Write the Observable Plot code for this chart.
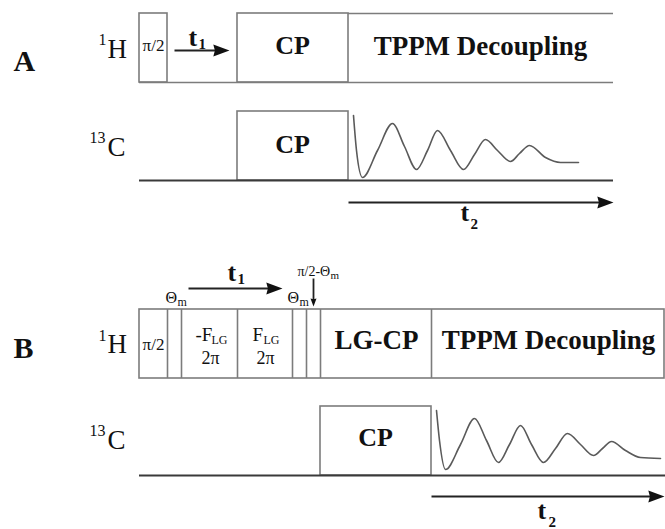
<!DOCTYPE html>
<html><head><meta charset="utf-8">
<script src="https://cdn.jsdelivr.net/npm/d3@7"></script>
<script src="https://cdn.jsdelivr.net/npm/@observablehq/plot@0.6"></script>
<style>html,body{margin:0;padding:0;background:#fff}</style>
</head><body><div id="chart"></div>
<script>
// ---- Diagram data (time axis -> x, channel level -> y, in diagram units) ----
const pulseBoxes = [
  {panel: "A", channel: "1H",  name: "pi/2", t0: 139, t1: 167, lo: 82,  hi: 13},
  {panel: "A", channel: "1H",  name: "CP",   t0: 237, t1: 348, lo: 82,  hi: 13},
  {panel: "A", channel: "13C", name: "CP",   t0: 237, t1: 348, lo: 180, hi: 111},
  {panel: "B", channel: "1H",  name: "block",t0: 139, t1: 664, lo: 378, hi: 309},
  {panel: "B", channel: "13C", name: "CP",   t0: 320, t1: 431, lo: 475, hi: 406}
];
const blockEdgesB = [167, 181, 237, 292, 306, 320, 431];
const blockLevelsB = {lo: 378, hi: 309};
const levelLines = [
  {t0: 139, t1: 613, level: 82,  kind: "1H"},
  {t0: 348, t1: 613, level: 13,  kind: "1H"},
  {t0: 139, t1: 613, level: 180, kind: "13C"},
  {t0: 139, t1: 665, level: 475, kind: "13C"}
];
const arrows = [
  {t0: 174, t1: 229, l0: 50,  l1: 50,  head: 6},
  {t0: 348, t1: 613, l0: 202, l1: 202, head: 6},
  {t0: 188, t1: 282, l0: 288, l1: 288, head: 6},
  {t0: 431, t1: 664, l0: 496, l1: 496, head: 6},
  {t0: 313, t1: 313, l0: 278, l1: 306, head: 3}
];
const fidA = [[353,115],[356,150],[362,177],[377,150],[392,123],[404,146],[416,169],[427,150],[437,130],[450,150],[463,169],[474,154],[485,139],[497,150],[510,161],[519,153],[529,145],[545,157],[560,162],[578,162]];
const fidB = [[436,410],[439,440],[445,469],[460,444],[474,418],[486,440],[498,462],[509,444],[520,425],[531,444],[543,462],[555,448],[567,433],[580,444],[593,455],[602,448],[611,441],[625,450],[640,457],[660,458]];

const boldLabels = [
  {text: "A", t: 13, l: 70, size: 30, anchor: "start"},
  {text: "B", t: 13, l: 357, size: 30, anchor: "start"},
  {text: "CP", t: 292, l: 53, size: 26, anchor: "middle"},
  {text: "TPPM Decoupling", t: 480, l: 54, size: 27, anchor: "middle"},
  {text: "CP", t: 292, l: 152, size: 26, anchor: "middle"},
  {text: "t", t: 188, l: 45, size: 26, anchor: "start"},
  {text: "1", t: 198, l: 48, size: 15, anchor: "start"},
  {text: "t", t: 460, l: 220, size: 26, anchor: "start"},
  {text: "2", t: 470, l: 228, size: 15, anchor: "start"},
  {text: "t", t: 227, l: 280, size: 26, anchor: "start"},
  {text: "1", t: 237, l: 283, size: 15, anchor: "start"},
  {text: "t", t: 537, l: 518, size: 26, anchor: "start"},
  {text: "2", t: 548, l: 526, size: 15, anchor: "start"},
  {text: "LG-CP", t: 376, l: 348, size: 27, anchor: "middle"},
  {text: "TPPM Decoupling", t: 548, l: 348, size: 27, anchor: "middle"},
  {text: "CP", t: 375, l: 445, size: 26, anchor: "middle"}
];
const regularLabels = [
  {text: "1", t: 98, l: 44, size: 16, anchor: "start"},
  {text: "H", t: 107, l: 57, size: 27, anchor: "start"},
  {text: "13", t: 89, l: 142, size: 16, anchor: "start"},
  {text: "C", t: 107, l: 155, size: 27, anchor: "start"},
  {text: "1", t: 98, l: 340, size: 16, anchor: "start"},
  {text: "H", t: 107, l: 352, size: 27, anchor: "start"},
  {text: "13", t: 89, l: 435, size: 16, anchor: "start"},
  {text: "C", t: 107, l: 448, size: 27, anchor: "start"},
  {text: "π/2", t: 153, l: 50, size: 17, anchor: "middle"},
  {text: "π/2", t: 153, l: 349, size: 17, anchor: "middle"},
  {text: "-F", t: 195, l: 340, size: 19, anchor: "start"},
  {text: "LG", t: 211, l: 343, size: 12, anchor: "start"},
  {text: "2π", t: 210, l: 363, size: 18, anchor: "middle"},
  {text: "F", t: 252, l: 340, size: 19, anchor: "start"},
  {text: "LG", t: 263, l: 343, size: 12, anchor: "start"},
  {text: "2π", t: 265, l: 363, size: 18, anchor: "middle"},
  {text: "Θ", t: 165, l: 302, size: 16, anchor: "start"},
  {text: "m", t: 177, l: 305, size: 12, anchor: "start"},
  {text: "Θ", t: 287, l: 302, size: 16, anchor: "start"},
  {text: "m", t: 299, l: 305, size: 12, anchor: "start"},
  {text: "π/2-Θ", t: 297, l: 275, size: 14, anchor: "start"},
  {text: "m", t: 330, l: 278, size: 11, anchor: "start"}
];

// ---- Arrowhead symbol (tip at the anchor point, pointing to +x) ----
const arrowHead = {
  draw(ctx, size) {
    const r = Math.sqrt(size / Math.PI);
    const L = 2.7 * r;
    ctx.moveTo(0, 0);
    ctx.lineTo(-L, -r);
    ctx.lineTo(-L * 0.9, 0);
    ctx.lineTo(-L, r);
    ctx.closePath();
  }
};

const font = "'Liberation Serif', 'Times New Roman', serif";
const textMarks = (data, weight) =>
  ["start", "middle"].map(a => Plot.text(data.filter(d => d.anchor === a), {
    x: "t", y: "l", text: "text", fontSize: d => d.size, textAnchor: a,
    lineAnchor: "bottom", fontWeight: weight, fontFamily: font, fill: "#111"
  }));

const edgeSegs = blockEdgesB.map(t => ({t, lo: blockLevelsB.lo, hi: blockLevelsB.hi}));

const chart = Plot.plot({
  width: 665, height: 529, margin: 0,
  x: {domain: [0, 665], range: [0, 665], axis: null},
  y: {domain: [0, 529], range: [0, 529], axis: null},
  r: {type: "identity"},
  style: {background: "#fff", fontFamily: font},
  marks: [
    Plot.rect(pulseBoxes, {x1: "t0", x2: "t1", y1: "hi", y2: "lo", fill: "none", stroke: "#7c7c7c", strokeWidth: 1.6}),
    Plot.ruleX(edgeSegs, {x: "t", y1: "hi", y2: "lo", stroke: "#7c7c7c", strokeWidth: 1.6}),
    Plot.ruleY(levelLines.filter(d => d.kind === "1H"), {y: "level", x1: "t0", x2: "t1", stroke: "#7c7c7c", strokeWidth: 1.6}),
    Plot.ruleY(levelLines.filter(d => d.kind === "13C"), {y: "level", x1: "t0", x2: "t1", stroke: "#3a3a3a", strokeWidth: 2.2}),
    Plot.line(fidA, {x: d => d[0], y: d => d[1], curve: "monotone-x", stroke: "#5a5a5a", strokeWidth: 1.6}),
    Plot.line(fidB, {x: d => d[0], y: d => d[1], curve: "monotone-x", stroke: "#5a5a5a", strokeWidth: 1.6}),
    Plot.link(arrows, {x1: "t0", y1: "l0", x2: d => d.t1 - (d.t1 === d.t0 ? 0 : 8), y2: d => d.l1 - (d.l1 === d.l0 ? 0 : 4), stroke: "#222", strokeWidth: 1.8}),
    Plot.dot(arrows, {x: "t1", y: "l1", r: "head", symbol: arrowHead, fill: "#111", stroke: "none",
      rotate: d => Math.atan2(d.l1 - d.l0, d.t1 - d.t0) * 180 / Math.PI}),
    ...textMarks(boldLabels, "bold"),
    ...textMarks(regularLabels, "normal")
  ]
});
document.getElementById("chart").appendChild(chart);
</script>
</body></html>
